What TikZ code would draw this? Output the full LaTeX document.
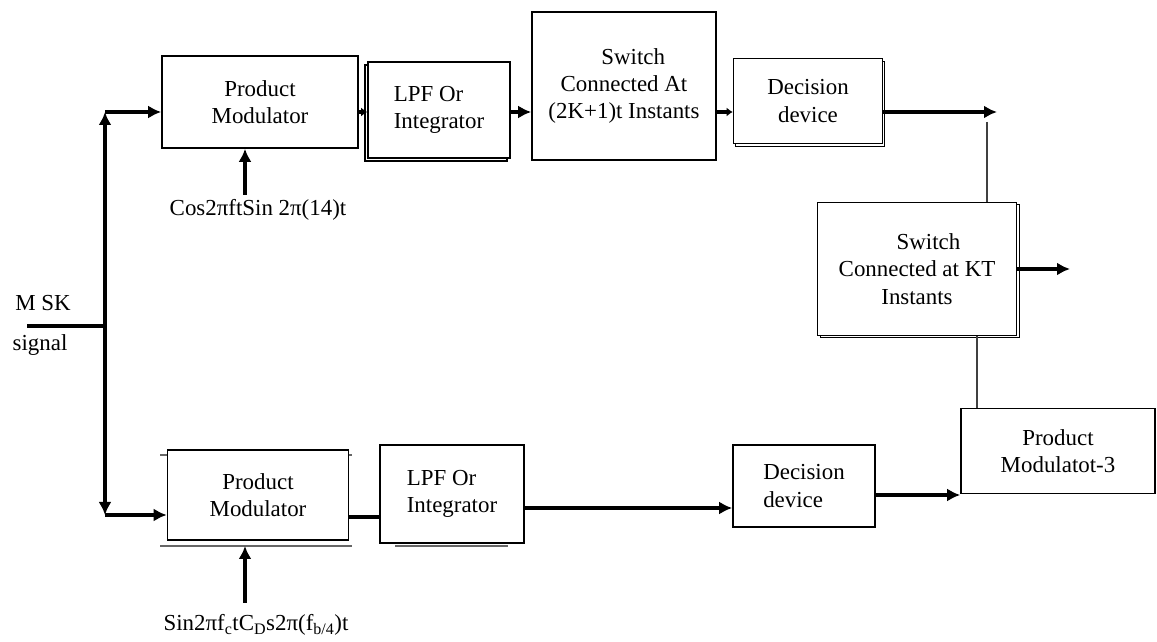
\documentclass[tikz,border=0pt]{standalone}
\usepackage{fontspec}
\setmainfont{Liberation Serif}
\usetikzlibrary{arrows.meta,shadows}

\tikzset{
  blk/.style={draw,line width=1.6bp,fill=white,inner sep=2bp},
  flow/.style={black,line width=3.8bp},
  tap/.style={black!75,line width=1.8bp},
  rim/.style={black!60,line width=1.6bp},
}

\begin{document}
\begin{tikzpicture}[>={Latex[length=13bp,width=13bp]},line join=miter,font=\fontsize{23}{27.5}\selectfont]
\useasboundingbox (0bp,0bp) rectangle (1157bp,642bp);
%%
\node (prodmod1) at (260bp,540bp) [blk,align=center,minimum width=196bp,minimum height=92bp] {Product\\Modulator};
  \node (lpf1) at (439bp,532bp) [blk,align=left,minimum width=142bp,minimum height=96bp,copy shadow={shadow xshift=-3bp,shadow yshift=-3bp}] {LPF Or\\Integrator};
  \node (switch1) at (624bp,556bp) [blk,align=center,minimum width=184bp,minimum height=148bp] {\hspace*{0.8em}Switch\\Connected At\\(2K+1)t Instants};
  \node (decide1) at (808bp,541bp) [blk,align=center,minimum width=149bp,minimum height=85bp,copy shadow={shadow xshift=2bp,shadow yshift=-3bp}] {Decision\\device};
  \node (switchkt) at (917bp,373bp) [blk,align=center,minimum width=199bp,minimum height=133bp,copy shadow={shadow xshift=3bp,shadow yshift=-2bp}] {\hspace*{1em}Switch\\Connected at KT\\Instants};
  \node (prodmod3) at (1058bp,191bp) [blk,align=center,minimum width=194bp,minimum height=85bp] {Product\\Modulatot-3};
  \draw [rim] (160bp,187bp) -- (352bp,187bp);
  \draw [rim] (160bp,96bp) -- (352bp,96bp);
  \draw [rim] (395bp,96bp) -- (508bp,96bp);
  \node (prodmod2) at (258bp,147bp) [blk,align=center,minimum width=181bp,minimum height=90bp] {Product\\Modulator};
  \node (lpf2) at (452bp,148bp) [blk,align=left,minimum width=144bp,minimum height=98bp] {LPF Or\\Integrator};
  \node (decide2) at (804bp,156bp) [blk,align=left,minimum width=142bp,minimum height=82bp] {Decision\\device};
  \node (msk) at (43bp,339bp) {M SK};
  \node (signal) at (40bp,297bp) {signal};
  \node (carrier1) at (258bp,432bp) {Cos2πftSin 2π(14)t};
  \node (carrier2) at (256bp,17bp) {Sin2πf\textsubscript{c}tC\textsubscript{D}s2π(f\textsubscript{b/4})t};
%%
  \coordinate (input) at (27bp,316bp);
  \coordinate (split) at (105bp,316bp);
  \coordinate (upper) at (105bp,530bp);
  \coordinate (lower) at (105bp,127bp);
  \coordinate (lo1) at (105bp,125bp);
  \coordinate (lo2) at (105bp,134bp);
  \coordinate (lo3) at (105bp,147bp);
  \coordinate (out1) at (997bp,530bp);
  \coordinate (tap1) at (987bp,520bp);
  \coordinate (out2) at (1070bp,373bp);
  \coordinate (tap2) at (977bp,306bp);
  \coordinate (feed1) at (245bp,447bp);
  \coordinate (feed2) at (245bp,39bp);
%%
  \draw [flow] (input) -- (split);
  \draw [flow,->] (split) -- (upper);
  \draw [flow,->] (upper) -- (prodmod1.west |- upper);
  \draw [flow,->] (split) -- (lower);
  \draw [flow,->] (lower) -- (prodmod2.west |- lower);
  \draw [flow,-{Latex[length=6bp,width=9bp]}] (prodmod1.east |- upper) -- (lpf1.west |- upper);
  \draw [flow,->] (lpf1.east |- upper) -- (switch1.west |- upper);
  \draw [flow,-{Latex[length=6bp,width=9bp]}] (switch1.east |- upper) -- (decide1.west |- upper);
  \draw [flow,->] (decide1.east |- upper) -- (out1);
  \draw [tap] (tap1) -- (tap1 |- switchkt.north);
  \draw [flow,->] (switchkt.east) -- (out2);
  \draw [tap] (tap2) -- (tap2 |- prodmod3.north);
  \draw [flow,->] (feed1) -- (feed1 |- prodmod1.south);
  \draw [flow,->] (feed2) -- (245bp,96bp);
  \draw [flow] (prodmod2.east |- lo1) -- (lpf2.west |- lo1);
  \draw [flow,->] (lpf2.east |- lo2) -- (decide2.west |- lo2);
  \draw [flow,->] (decide2.east |- lo3) -- (prodmod3.west |- lo3);
%
\end{tikzpicture}
\end{document}
